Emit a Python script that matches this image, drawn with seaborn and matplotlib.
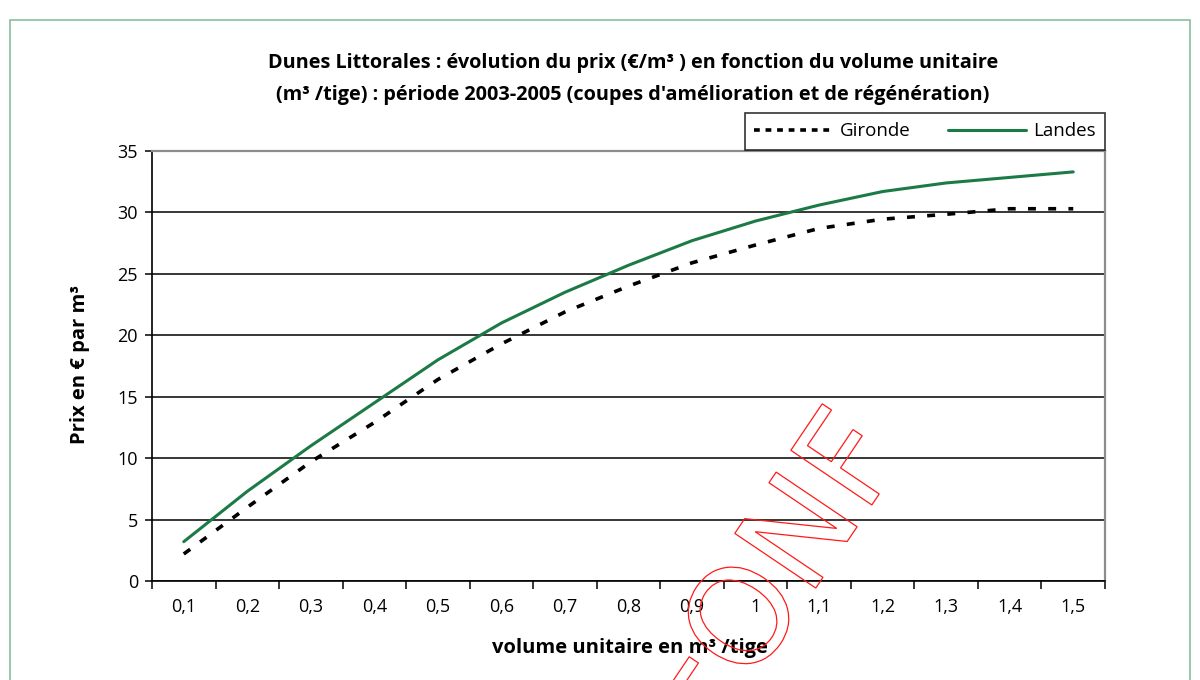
import numpy as np
import pandas as pd
import matplotlib
matplotlib.use("Agg")
import matplotlib.pyplot as plt
import seaborn as sns
from matplotlib.textpath import TextPath
from matplotlib.patches import PathPatch, Rectangle
from matplotlib.font_manager import FontProperties
from matplotlib.transforms import Affine2D
from matplotlib.lines import Line2D
from matplotlib.ticker import FixedLocator

# ---------------- data ----------------
volumes = ["0,1", "0,2", "0,3", "0,4", "0,5", "0,6", "0,7", "0,8",
           "0,9", "1", "1,1", "1,2", "1,3", "1,4", "1,5"]
gironde = [2.2, 6.0, 9.7, 12.9, 16.4, 19.3, 21.9, 24.0,
           25.9, 27.35, 28.7, 29.45, 29.85, 30.3, 30.3]
landes = [3.2, 7.3, 11.0, 14.5, 18.0, 21.0, 23.5, 25.7,
          27.7, 29.3, 30.6, 31.7, 32.4, 32.85, 33.3]
series_names = ["Gironde", "Landes"]
y_ticks = [0, 5, 10, 15, 20, 25, 30, 35]

title_lines = [
    "Dunes Littorales : évolution du prix (€/m³ ) en fonction du volume unitaire",
    "(m³ /tige) : période 2003-2005 (coupes d'amélioration et de régénération)",
]
x_label = "volume unitaire en m³ /tige"
y_label = "Prix en € par m³"
watermark = "ONF"

# ---------------- style ----------------
sns.set_theme(style="white")
plt.rcParams["font.family"] = ["Open Sans", "DejaVu Sans"]
plt.rcParams["text.color"] = "black"
plt.rcParams["axes.labelcolor"] = "black"

GREEN = "#1b7a45"
W, H = 1200, 680

df = pd.DataFrame({
    "volume": volumes * 2,
    "prix": gironde + landes,
    "region": [series_names[0]] * len(volumes) + [series_names[1]] * len(volumes),
})

fig = plt.figure(figsize=(12, 6.8), dpi=100)
ax = fig.add_axes([152 / W, 1 - 581 / H, 953 / W, 430 / H])

sns.lineplot(data=df, x="volume", y="prix", hue="region", style="region",
             palette={"Gironde": "black", "Landes": GREEN},
             dashes={"Gironde": (2.2, 3.4), "Landes": ""},
             sort=False, legend=False, ax=ax, zorder=3)

for ln in ax.lines:
    if tuple(np.round(matplotlib.colors.to_rgb(ln.get_color()), 2)) == (0.0, 0.0, 0.0):
        ln.set_linewidth(2.6)
        ln.set_dash_capstyle("butt")
    else:
        ln.set_linewidth(2.2)

ax.set_xlim(-0.5, len(volumes) - 0.5)
ax.set_ylim(0, 35)
ax.set_yticks(y_ticks)
ax.set_xticks(range(len(volumes)))
ax.set_xticklabels(volumes)
ax.xaxis.set_minor_locator(FixedLocator(np.arange(-0.5, len(volumes), 1.0)))

ax.tick_params(axis="x", which="major", length=0, pad=12, labelsize=13, labelcolor="black")
ax.tick_params(axis="x", which="minor", length=6, width=1.1, color="black", direction="out", bottom=True)
ax.tick_params(axis="y", which="major", length=5, width=1.1, color="black", direction="out",
               pad=5, labelsize=13, labelcolor="black", left=True)

ax.set_axisbelow(True)
ax.yaxis.grid(True, color="black", linewidth=1.1)
ax.xaxis.grid(False)
ax.set_xlabel("")
ax.set_ylabel("")

for side in ["left", "bottom"]:
    ax.spines[side].set_color("black")
    ax.spines[side].set_linewidth(1.2)
for side in ["top", "right"]:
    ax.spines[side].set_visible(True)
    ax.spines[side].set_color("#8c8c8c")
    ax.spines[side].set_linewidth(1.6)

# ---------------- texts ----------------
fig.text(633 / W, 1 - 63 / H, title_lines[0], ha="center", va="center",
         fontsize=14.3, fontweight="bold", color="black")
fig.text(633 / W, 1 - 95 / H, title_lines[1], ha="center", va="center",
         fontsize=14.3, fontweight="bold", color="black")
fig.text(630 / W, 1 - 648 / H, x_label, ha="center", va="center",
         fontsize=14.5, fontweight="bold", color="black")
fig.text(80 / W, 1 - 365 / H, y_label, ha="center", va="center",
         fontsize=14.5, fontweight="bold", rotation=90, color="black")

# ---------------- legend ----------------
handles = [
    Line2D([], [], color="black", linewidth=2.6, dashes=(1.6, 1.6), dash_capstyle="butt"),
    Line2D([], [], color=GREEN, linewidth=2.2),
]
leg = fig.legend(handles, series_names, loc="upper right",
                 bbox_to_anchor=(1105 / W, 1 - 113 / H), borderaxespad=0,
                 ncol=2, fontsize=13.5, handlelength=4.2, handletextpad=0.35,
                 columnspacing=2.0, frameon=True, fancybox=False,
                 borderpad=0.5)
leg.get_frame().set_edgecolor("black")
leg.get_frame().set_linewidth(1.2)
for t in leg.get_texts():
    t.set_color("black")

# ---------------- outer frame ----------------
fig.add_artist(Rectangle((10 / W, -0.02), 1180 / W, 1 - 20 / H + 0.02,
                         transform=fig.transFigure, fill=False,
                         edgecolor="#86bf9c", linewidth=1.2, zorder=0))

# ---------------- watermark ----------------
def add_watermark(cx, cy, size=134, angle=56):
    tp = TextPath((0, 0), watermark, size=size, prop=FontProperties(family="DejaVu Sans"))
    bb = tp.get_extents()
    tr = (Affine2D().translate(-(bb.x0 + bb.x1) / 2, -(bb.y0 + bb.y1) / 2)
          .rotate_deg(angle).translate(cx, H - cy).scale(1 / 100.0))
    patch = PathPatch(tr.transform_path(tp), transform=fig.dpi_scale_trans,
                      facecolor="none", edgecolor="#ff1a1a", linewidth=0.9, zorder=10)
    fig.add_artist(patch)

add_watermark(788, 542)
add_watermark(655, 795)

fig.savefig("out.png", dpi=100)
